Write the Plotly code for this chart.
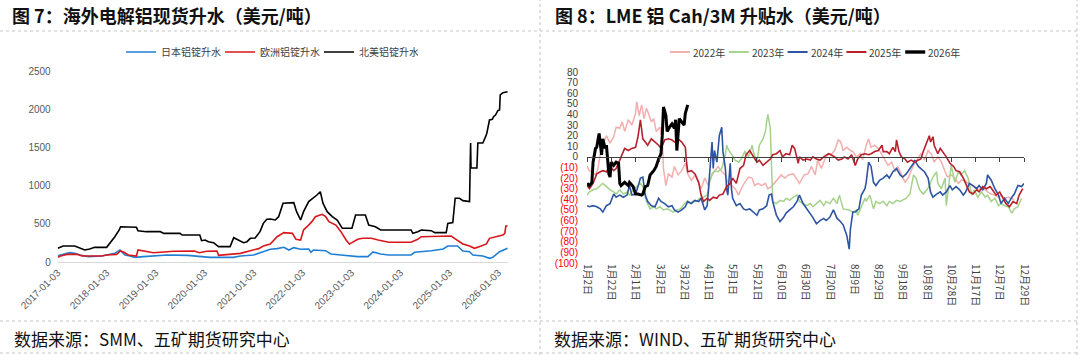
import plotly.graph_objects as go

# ---------------- Left chart data (USD/t) ----------------
na_dates = ["2017-01-03","2017-01-20","2017-02-13","2017-05-10","2017-06-17","2017-07-24","2017-08-30","2017-10-05",
            "2018-01-03","2018-01-28","2018-03-05","2018-04-07","2018-04-17","2018-08-13","2018-08-25","2018-10-27",
            "2019-02-08","2019-03-05","2019-07-05","2019-07-20","2019-11-29","2019-12-12","2020-01-08","2020-02-01",
            "2020-03-10","2020-04-17","2020-07-12","2020-08-08","2020-09-14","2020-10-20","2020-11-15","2020-12-10",
            "2021-01-15","2021-02-20","2021-03-17","2021-04-12","2021-05-08","2021-06-14","2021-07-09","2021-08-11",
            "2021-10-30","2021-11-20","2021-12-20","2022-01-11","2022-02-18","2022-03-26","2022-04-21","2022-05-16",
            "2022-06-05","2022-07-06","2022-08-13","2022-09-19","2022-10-27","2023-01-07","2023-02-03","2023-04-17",
            "2023-05-12","2023-07-01","2023-08-09","2024-03-23","2024-04-05","2024-05-12","2024-06-07","2024-08-21",
            "2024-09-15","2024-12-10","2024-12-22","2025-01-28","2025-02-15","2025-03-19","2025-04-13","2025-06-02",
            "2025-06-10","2025-06-13","2025-07-27","2025-08-03","2025-09-09","2025-09-30","2025-10-09","2025-10-29",
            "2025-11-19","2025-11-28","2025-12-13","2025-12-30","2026-01-12","2026-01-17","2026-02-06","2026-03-13"]
na_vals = [179,188,209,209,179,157,170,192,
           192,244,331,419,462,454,410,397,
           397,375,375,353,353,279,288,266,
           253,201,201,318,288,253,266,310,
           314,397,506,559,563,550,593,768,
           777,659,550,659,790,834,877,920,
           768,659,593,550,441,441,615,615,
           484,462,419,419,375,397,419,410,
           384,384,506,515,834,834,803,790,
           1558,1230,1230,1558,1558,1640,1685,1859,
           1868,1902,1924,1981,1990,2186,2216,2229]

eu_dates = ["2017-01-03","2017-01-25","2017-03-12","2017-05-28","2017-07-05","2017-11-26","2018-01-03","2018-03-18",
            "2018-04-17","2018-05-12","2018-06-15","2018-08-13","2018-08-25","2018-10-03","2018-12-18","2019-03-05",
            "2019-05-20","2019-10-21","2019-11-26","2020-01-20","2020-04-05","2020-04-17","2020-07-12","2020-09-27",
            "2020-12-10","2021-02-10","2021-03-17","2021-04-25","2021-05-08","2021-06-28","2021-08-17","2021-10-20",
            "2021-11-15","2021-12-20","2022-01-11","2022-02-06","2022-03-14","2022-04-09","2022-05-30","2022-06-25",
            "2022-07-19","2022-09-09","2022-10-17","2022-11-24","2022-12-19","2023-01-07","2023-02-19","2023-03-28",
            "2023-06-01","2023-07-22","2023-10-08","2024-03-23","2024-05-12","2024-06-07","2024-10-14","2025-01-16",
            "2025-02-10","2025-03-19","2025-04-13","2025-06-02","2025-07-09","2025-08-28","2025-10-06","2025-10-29",
            "2025-12-18","2026-02-06","2026-02-20","2026-02-28","2026-03-13"]
eu_vals = [61,78,100,100,78,78,92,100,
           144,127,92,78,157,144,122,131,
           140,144,122,140,144,87,100,113,
           148,175,209,236,236,331,384,375,
           297,288,419,462,528,593,624,593,
           528,484,397,288,236,253,297,310,
           310,288,258,258,297,331,331,340,
           310,266,236,209,179,209,236,310,
           331,353,375,471,471]

jp_dates = ["2017-01-03","2017-01-25","2017-04-03","2017-05-10","2017-06-17","2017-08-20","2017-11-26","2018-01-03",
            "2018-03-05","2018-04-12","2018-05-02","2018-05-20","2018-06-27","2018-08-03","2018-10-05","2019-01-01",
            "2019-03-30","2019-08-30","2019-11-26","2020-02-14","2020-08-05","2020-09-27","2021-01-03","2021-02-20",
            "2021-04-12","2021-05-08","2021-06-28","2021-08-17","2021-09-23","2021-10-30","2021-12-20","2022-02-18",
            "2022-03-07","2022-03-26","2022-06-25","2022-08-02","2022-10-17","2023-02-19","2023-05-06","2023-06-13",
            "2023-08-09","2023-10-08","2024-03-23","2024-04-18","2024-08-21","2024-11-18","2024-12-22","2025-03-05",
            "2025-04-13","2025-06-02","2025-06-27","2025-09-09","2025-10-29","2025-11-23","2026-01-12","2026-03-13"]
jp_vals = [83,92,122,113,92,70,78,92,
           113,157,122,92,78,61,70,83,
           92,87,70,61,61,78,92,122,
           157,166,175,192,157,188,166,170,
           127,157,148,105,92,70,70,131,
           105,92,92,127,148,170,209,209,
           144,135,92,78,48,61,135,179]

left_ticks = ["2017-01-03","2018-01-03","2019-01-03","2020-01-03","2021-01-03",
              "2022-01-03","2023-01-03","2024-01-03","2025-01-03","2026-01-03"]

# ---------------- Right chart data (LME Cash/3M, USD/t) ----------------
# x = days after 1月2日
d2022 = [0,2,7,9,11,13,16,19,22,24,27,29,31,34,37,40,41,43,45,47,49,51,53,55,57,60,62,63,65,67,
         70,72,75,78,81,83,86,89,92,94,97,100,103,105,108,111,114,116,119,122,125,127,130,133,136,138,141,144,147,149,
         152,155,158,160,163,166,170,
         175,179,182,185,188,190,193,196,199,201,204,207,209,211,214,217,219,222,225,227,
         230,232,234,237,240,243,245,248,251,254,256,259,262,265,267,270,273,275,278,281,
         284,286,289,292,295,297,300,303,306,308,311,314,317,319,322,325,328,330,333,336,
         339,341,344,347,350,352]
v2022 = [-9,-13,-17,-11,3,11,20,13,19,28,27,33,24,35,30,41,52,39,49,36,46,39,33,36,24,28,17,-11,-27,-16,
         -19,-9,-17,-13,-6,-16,-22,-17,-25,-30,-20,-27,-17,-14,-9,-14,-17,-24,-27,-30,-36,-30,-24,-19,-20,-27,-25,-27,-25,-30,
         -28,-24,-20,-17,-20,-17,-16,
         -25,-17,-16,-9,-17,-3,-11,-2,3,2,6,16,14,6,9,6,5,0,3,-3,
         11,17,9,11,8,2,-2,-8,-5,-14,-9,-17,-24,-19,-13,-6,0,3,-3,6,
         2,-5,0,-5,-14,-19,-17,-20,-25,-22,-22,-25,-27,-28,-31,-30,-31,-33,-35,-36,
         -38,-36,-39,-38,-39,-41]

d2023 = [0,2,5,8,11,13,16,19,22,24,27,30,33,35,38,41,44,46,49,52,55,57,60,63,66,68,71,74,77,79,
         82,85,88,90,93,96,99,100,101,103,105,108,111,114,115,116,119,122,125,127,130,133,136,137,140,142,145,147,148,149,
         151,152,153,156,159,162,164,167,170,173,
         175,178,181,184,186,189,192,195,197,200,203,206,208,211,214,216,219,222,223,226,
         229,230,233,236,238,241,244,247,249,252,255,258,260,263,266,269,271,274,277,280,
         282,285,288,289,292,295,296,298,300,303,306,308,311,314,317,319,322,325,328,330,
         333,336,339,341,344,347,350,352,355,358]
v2023 = [-36,-33,-31,-30,-27,-25,-28,-31,-33,-35,-31,-35,-33,-36,-31,-28,-25,-28,-42,-49,-47,-49,-47,-50,-49,-50,-52,-50,-49,-46,
         -42,-44,-41,-42,-39,-38,-36,-33,-24,-16,-13,-14,-11,2,11,8,2,-3,-5,-2,5,0,11,5,-5,11,17,24,33,40,
         27,-20,-42,-44,-41,-42,-39,-41,-38,-36,
         -42,-44,-46,-44,-47,-44,-41,-46,-42,-44,-39,-44,-36,-49,-50,-50,-52,-50,-55,-47,
         -39,-42,-36,-49,-42,-44,-42,-46,-42,-44,-41,-42,-41,-39,-35,-17,-20,-31,-35,-31,
         -27,-19,-14,-25,-30,-20,-46,-27,-8,-24,-14,-17,-13,-20,-36,-31,-38,-33,-38,-36,
         -42,-39,-46,-44,-46,-47,-53,-49,-47,-39]

d2024 = [0,2,5,8,11,13,16,19,22,24,27,30,33,35,37,40,42,44,46,48,50,53,56,59,61,64,67,70,72,75,
         78,81,83,86,89,92,94,97,99,101,103,104,105,107,108,109,111,112,114,115,116,118,119,120,123,126,129,131,134,137,
         140,142,145,148,150,152,153,156,159,162,164,167,170,173,
         175,178,181,184,186,189,192,195,197,200,203,206,208,211,214,216,217,219,221,224,
         226,229,230,232,234,236,238,241,244,247,249,252,255,258,260,263,266,269,270,273,
         275,278,281,283,285,288,291,293,296,299,301,304,307,310,312,315,318,321,323,326,
         329,330,333,336,339,341,344,347,350,352,355,358,360]
v2024 = [-46,-47,-46,-47,-49,-52,-46,-44,-35,-38,-36,-38,-36,-27,-36,-35,-28,-20,-19,-36,-42,-46,-47,-39,-42,-44,-47,-46,-50,-52,
         -50,-47,-42,-44,-41,-42,-39,-50,-46,-20,14,-11,6,-5,6,20,28,5,-11,-30,-36,-6,-30,-39,-46,-44,-49,-50,-49,-52,
         -55,-50,-49,-46,-36,-35,-42,-55,-61,-57,-53,-50,-47,-42,
         -36,-44,-49,-53,-57,-63,-60,-58,-60,-57,-50,-58,-60,-64,-74,-87,-68,-52,-52,-49,
         -36,-30,-24,-5,-9,-24,-27,-22,-20,-17,-20,-14,-11,-17,-19,-16,-11,-6,-3,-9,
         -11,-14,-20,-33,-38,-35,-33,-36,-33,-27,-31,-28,-31,-36,-33,-25,-27,-30,-27,-31,
         -25,-17,-22,-30,-36,-44,-39,-44,-38,-35,-27,-28,-25]

d2025 = [0,2,5,8,11,13,16,19,22,24,27,29,31,34,37,40,42,44,46,48,50,53,56,59,61,64,67,70,72,75,
         78,81,82,83,86,89,92,94,96,99,101,104,107,109,112,115,118,120,123,126,129,131,134,137,140,142,145,148,151,153,
         156,159,161,164,167,169,171,174,
         175,178,181,184,186,189,192,195,199,201,204,207,210,212,215,218,221,223,226,229,
         232,234,237,240,243,244,247,249,252,254,255,257,259,262,264,267,270,273,275,277,
         280,282,283,285,286,289,291,293,296,299,302,304,307,310,312,315,318,321,323,326,
         329,332,334,337,340,343,345,348,351,354,356,359]
v2025 = [-27,-30,-25,-16,-14,-13,-14,-9,-13,-11,-3,2,8,6,8,9,19,35,17,14,11,17,14,11,8,16,17,16,14,17,
         14,9,-5,-14,-13,-16,-24,-36,-42,-39,-41,-38,-39,-36,-35,-28,-25,-20,-25,-11,-8,2,6,0,-5,-3,-8,-5,-2,2,
         3,6,0,3,2,11,8,-6,
         0,-3,-2,-3,0,-2,-3,0,3,2,0,-3,-2,0,-2,2,-8,-2,2,3,
         2,3,5,6,11,5,5,3,9,5,16,5,0,-2,-5,-3,-5,-3,-2,5,
         13,20,14,19,11,3,8,5,0,-6,-9,-13,-14,-20,-25,-33,-35,-31,-33,-28,
         -30,-28,-31,-36,-33,-39,-44,-47,-42,-44,-36,-30]

d2026 = [0,2,4,5,7,8,10,11,12,13,15,16,17,18,19,20,22,24,26,27,28,31,34,35,38,40,42,45,46,48,
         50,52,55,57,59,61,62,63,65,66,68,70,72,73,74,75,76,78,80,81,83]
v2026 = [-25,-27,-24,-5,8,9,22,11,2,17,8,11,-5,-16,-19,-5,-8,-5,-6,-25,-27,-24,-27,-24,-28,-35,-35,-36,-35,-28,
         -27,-17,-13,-9,-2,3,20,47,39,24,28,31,27,35,6,24,36,33,30,41,49]

right_tick_days = [0,20,40,60,80,100,120,140,160,180,200,220,240,260,280,300,320,340,360]
right_tick_labels = ["1月2日","1月22日","2月11日","3月2日","3月22日","4月11日","5月1日","5月21日","6月10日",
                     "6月30日","7月20日","8月9日","8月29日","9月18日","10月8日","10月28日","11月17日","12月7日","12月29日"]
right_y_vals = list(range(-100, 81, 10))

# ---------------- layout helpers ----------------
W, H = 1080, 355
def fx(p): return p / W
def fy(p): return 1 - p / H

CJK = "Noto Sans CJK SC"
LAT = "Liberation Sans, Noto Sans CJK SC"

fig = go.Figure()

# left chart traces
fig.add_trace(go.Scatter(x=jp_dates, y=jp_vals, name="日本铝锭升水", mode="lines",
                         line=dict(color="#1F7FD3", width=1.6), xaxis="x", yaxis="y", legend="legend"))
fig.add_trace(go.Scatter(x=eu_dates, y=eu_vals, name="欧洲铝锭升水", mode="lines",
                         line=dict(color="#D8161B", width=1.6), xaxis="x", yaxis="y", legend="legend"))
fig.add_trace(go.Scatter(x=na_dates, y=na_vals, name="北美铝锭升水", mode="lines",
                         line=dict(color="#000000", width=1.6), xaxis="x", yaxis="y", legend="legend"))

# right chart traces
series = [("2022年", d2022, v2022, "#F4AEAE", 1.5),
          ("2023年", d2023, v2023, "#A5D28A", 1.5),
          ("2024年", d2024, v2024, "#2E55A3", 1.6),
          ("2025年", d2025, v2025, "#B7202C", 1.6),
          ("2026年", d2026, v2026, "#000000", 3.0)]
for name, dx, vy, col, w in series:
    fig.add_trace(go.Scatter(x=dx, y=vy, name=name, mode="lines", line=dict(color=col, width=w),
                             xaxis="x2", yaxis="y2", showlegend=False))

# invisible helper so the zero-line axis gets drawn
fig.add_trace(go.Scatter(x=[right_tick_days[0]], y=[0], mode="markers", marker=dict(opacity=0),
                         xaxis="x3", yaxis="y2", showlegend=False, hoverinfo="skip"))

y2_dom = [fy(263), fy(72)]
zero_pos = y2_dom[0] + (0 - right_y_vals[0]) / (right_y_vals[-1] - right_y_vals[0]) * (y2_dom[1] - y2_dom[0])

y2_text = [("<span style='color:#FF0000'>(%d)</span>" % (-v)) if v < 0 else str(v) for v in right_y_vals]

fig.update_layout(
    width=W, height=H, autosize=False,
    margin=dict(l=0, r=0, t=0, b=0, autoexpand=False),
    paper_bgcolor="white", plot_bgcolor="white",
    showlegend=True,
    xaxis=dict(domain=[fx(57.7), fx(508)], anchor="y", type="date", automargin=False,
               range=["2017-01-03", "2026-03-16"],
               tickvals=left_ticks, ticktext=left_ticks, tickangle=-45,
               tickfont=dict(family=LAT, size=10, color="#595959"),
               showline=True, linecolor="#D9D9D9", linewidth=1, ticks="",
               showgrid=False, zeroline=False),
    yaxis=dict(domain=[fy(262), fy(71)], anchor="x", range=[0, 2500], automargin=False,
               tickvals=[0, 500, 1000, 1500, 2000, 2500],
               tickfont=dict(family=LAT, size=10, color="#595959"),
               showline=False, showgrid=False, zeroline=False, ticks="",
               ticklabelstandoff=6),
    xaxis2=dict(domain=[fx(587), fx(1024)], anchor="y2", range=[0, 360], automargin=False,
                tickvals=right_tick_days, ticktext=right_tick_labels, tickangle=90,
                tickfont=dict(family=CJK, size=10, color="#404040"),
                showline=False, showgrid=False, zeroline=False, ticks=""),
    xaxis3=dict(overlaying="x2", anchor="free", position=zero_pos, range=[0, 360], automargin=False,
                tickvals=right_tick_days, showticklabels=False, ticks="outside", ticklen=4,
                tickcolor="#404040", showline=True, linecolor="#404040", linewidth=1.3,
                showgrid=False, zeroline=False),
    yaxis2=dict(domain=y2_dom, anchor="x2", range=[right_y_vals[0], right_y_vals[-1]], automargin=False,
                tickvals=right_y_vals, ticktext=y2_text,
                tickfont=dict(family=LAT, size=10, color="#404040"),
                showline=False, showgrid=False, zeroline=False, ticks="",
                ticklabelstandoff=8),
    legend=dict(orientation="h", x=fx(121), xanchor="left", y=fy(52), yanchor="middle",
                font=dict(family=CJK, size=10, color="#404040"), itemwidth=30,
                entrywidth=54, entrywidthmode="pixels",
                bgcolor="rgba(0,0,0,0)"),
)

# right-panel legend (compact, drawn as decoration)
for i, (name, dx, vy, col, w) in enumerate(series):
    x0 = 670 + i * 58.8
    fig.add_shape(type="line", xref="paper", yref="paper", x0=fx(x0), x1=fx(x0 + 20),
                  y0=fy(52), y1=fy(52), line=dict(color=col, width=w + 0.4))
    fig.add_annotation(text=name, x=fx(x0 + 21), y=fy(52), xref="paper", yref="paper",
                       xanchor="left", yanchor="middle", showarrow=False,
                       font=dict(family=CJK, size=10, color="#404040"))

annos = [
    ("<b>图 7：海外电解铝现货升水（美元/吨）</b>", 10, 15, 18),
    ("<b>图 8：LME 铝 Cah/3M 升贴水（美元/吨）</b>", 553, 15, 18),
    ("数据来源：SMM、五矿期货研究中心", 12, 338, 17),
    ("数据来源：WIND、五矿期货研究中心", 552, 338, 17),
]
for t, x, y, s in annos:
    fig.add_annotation(text=t, x=fx(x), y=fy(y), xref="paper", yref="paper", xanchor="left",
                       yanchor="middle", showarrow=False,
                       font=dict(family=CJK, size=s, color="#111111"))

dash = dict(color="#C4C4C4", width=1, dash="dot")
for yy in (31, 321, 353):
    fig.add_shape(type="line", xref="paper", yref="paper", x0=0, x1=fx(1078), y0=fy(yy), y1=fy(yy), line=dash)
for xx in (540, 1077):
    fig.add_shape(type="line", xref="paper", yref="paper", x0=fx(xx), x1=fx(xx), y0=0, y1=1, line=dash)

fig.write_html("out.html", config={"displayModeBar": False},
               post_script="document.body.style.margin='0';document.body.style.overflow='hidden';")
